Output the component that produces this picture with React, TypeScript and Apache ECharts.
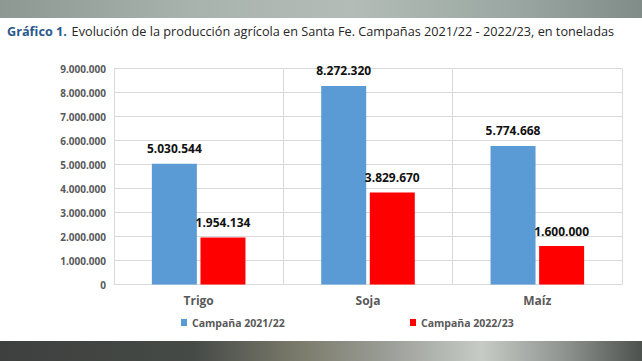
import React, { useEffect, useRef } from "react";
import * as echarts from "echarts";

const categories = ["Trigo", "Soja", "Maíz"];
const seriesNames = ["Campaña 2021/22", "Campaña 2022/23"];
const campaign2122 = [5030544, 8272320, 5774668];
const campaign2223 = [1954134, 3829670, 1600000];
const yMax = 9000000;
const yInterval = 1000000;
const titleBold = "Gráfico 1.";
const titleRest = "Evolución de la producción agrícola en Santa Fe. Campañas 2021/22 - 2022/23, en toneladas";

const FONT = "'Open Sans', 'Noto Sans', sans-serif";

function fmt(v: number): string {
  return String(Math.round(v)).replace(/\B(?=(\d{3})+(?!\d))/g, ".");
}

export default function App() {
  const ref = useRef<HTMLDivElement>(null);
  useEffect(() => {
    if (!ref.current) return;
    const chart = echarts.init(ref.current, undefined, { renderer: "svg" });
    const labelStyle = {
      show: true,
      position: "top" as const,
      distance: 8,
      color: "#111",
      fontWeight: "bold" as const,
      fontSize: 12,
      fontFamily: FONT,
      lineHeight: 14,
      formatter: (p: any) => fmt(p.value),
    };
    const legendText = {
      fontSize: 10.5,
      fontWeight: "bold" as const,
      color: "#595959",
      fontFamily: FONT,
    };
    chart.setOption({
      animation: false,
      backgroundColor: "#ffffff",
      textStyle: { fontFamily: FONT },
      graphic: [
        {
          type: "rect",
          left: 0,
          top: 0,
          z: -10,
          shape: { width: 642, height: 18 },
          style: {
            fill: new echarts.graphic.LinearGradient(0, 0, 1, 0, [
              { offset: 0, color: "#8e9892" },
              { offset: 0.3, color: "#a9b3ad" },
              { offset: 0.55, color: "#b3bcb6" },
              { offset: 0.8, color: "#9aa7a2" },
              { offset: 1, color: "#7f8c87" },
            ]),
          },
        },
        {
          type: "rect",
          left: 0,
          top: 341,
          z: -10,
          shape: { width: 642, height: 20 },
          style: {
            fill: new echarts.graphic.LinearGradient(0, 0, 1, 0, [
              { offset: 0, color: "#3d403e" },
              { offset: 0.3, color: "#464a47" },
              { offset: 0.47, color: "#7c7c6c" },
              { offset: 0.6, color: "#9a9d96" },
              { offset: 0.75, color: "#c6cbc6" },
              { offset: 0.88, color: "#8e938f" },
              { offset: 1, color: "#4d524f" },
            ]),
          },
        },
      ],
      title: {
        text: "{a|" + titleBold + "} {b|" + titleRest + "}",
        left: 2,
        top: 17,
        textStyle: {
          fontWeight: "normal",
          rich: {
            a: { fontSize: 12.7, fontWeight: "bold", color: "#2a5a8c", fontFamily: FONT },
            b: { fontSize: 12.7, fontWeight: "normal", color: "#262626", fontFamily: FONT },
          },
        },
      },
      legend: [
        {
          data: [seriesNames[0]],
          left: 176,
          top: 312,
          icon: "rect",
          itemWidth: 6,
          itemHeight: 7,
          itemGap: 0,
          textStyle: legendText,
        },
        {
          data: [seriesNames[1]],
          left: 405,
          top: 312,
          icon: "rect",
          itemWidth: 6,
          itemHeight: 7,
          itemGap: 0,
          textStyle: legendText,
        },
      ],
      grid: { left: 114, right: 20, top: 68.5, bottom: 76.5, containLabel: false },
      xAxis: {
        type: "category",
        data: categories,
        axisLine: { show: true, lineStyle: { color: "#d9d9d9" } },
        axisTick: { show: false },
        splitLine: { show: true, lineStyle: { color: "#d9d9d9" } },
        axisLabel: {
          color: "#595959",
          fontWeight: "bold",
          fontSize: 12,
          fontFamily: FONT,
          margin: 9,
          lineHeight: 14,
        },
      },
      yAxis: {
        type: "value",
        min: 0,
        max: yMax,
        interval: yInterval,
        axisLine: { show: true, lineStyle: { color: "#d9d9d9" } },
        axisTick: { show: false },
        splitLine: { show: true, lineStyle: { color: "#d9d9d9" } },
        axisLabel: {
          color: "#595959",
          fontWeight: "bold",
          fontSize: 10,
          fontFamily: FONT,
          margin: 8,
          formatter: (v: number) => fmt(v),
        },
      },
      series: [
        {
          name: seriesNames[0],
          type: "bar",
          data: campaign2122,
          barWidth: 45,
          barGap: "8%",
          itemStyle: { color: "#5b9bd5" },
          label: labelStyle,
        },
        {
          name: seriesNames[1],
          type: "bar",
          data: campaign2223,
          barWidth: 45,
          barGap: "8%",
          itemStyle: { color: "#ff0000" },
          label: labelStyle,
        },
      ],
    });
    return () => chart.dispose();
  }, []);
  return (
    <div
      ref={ref}
      style={{ position: "absolute", left: 0, top: 0, width: 642, height: 361 }}
    />
  );
}
